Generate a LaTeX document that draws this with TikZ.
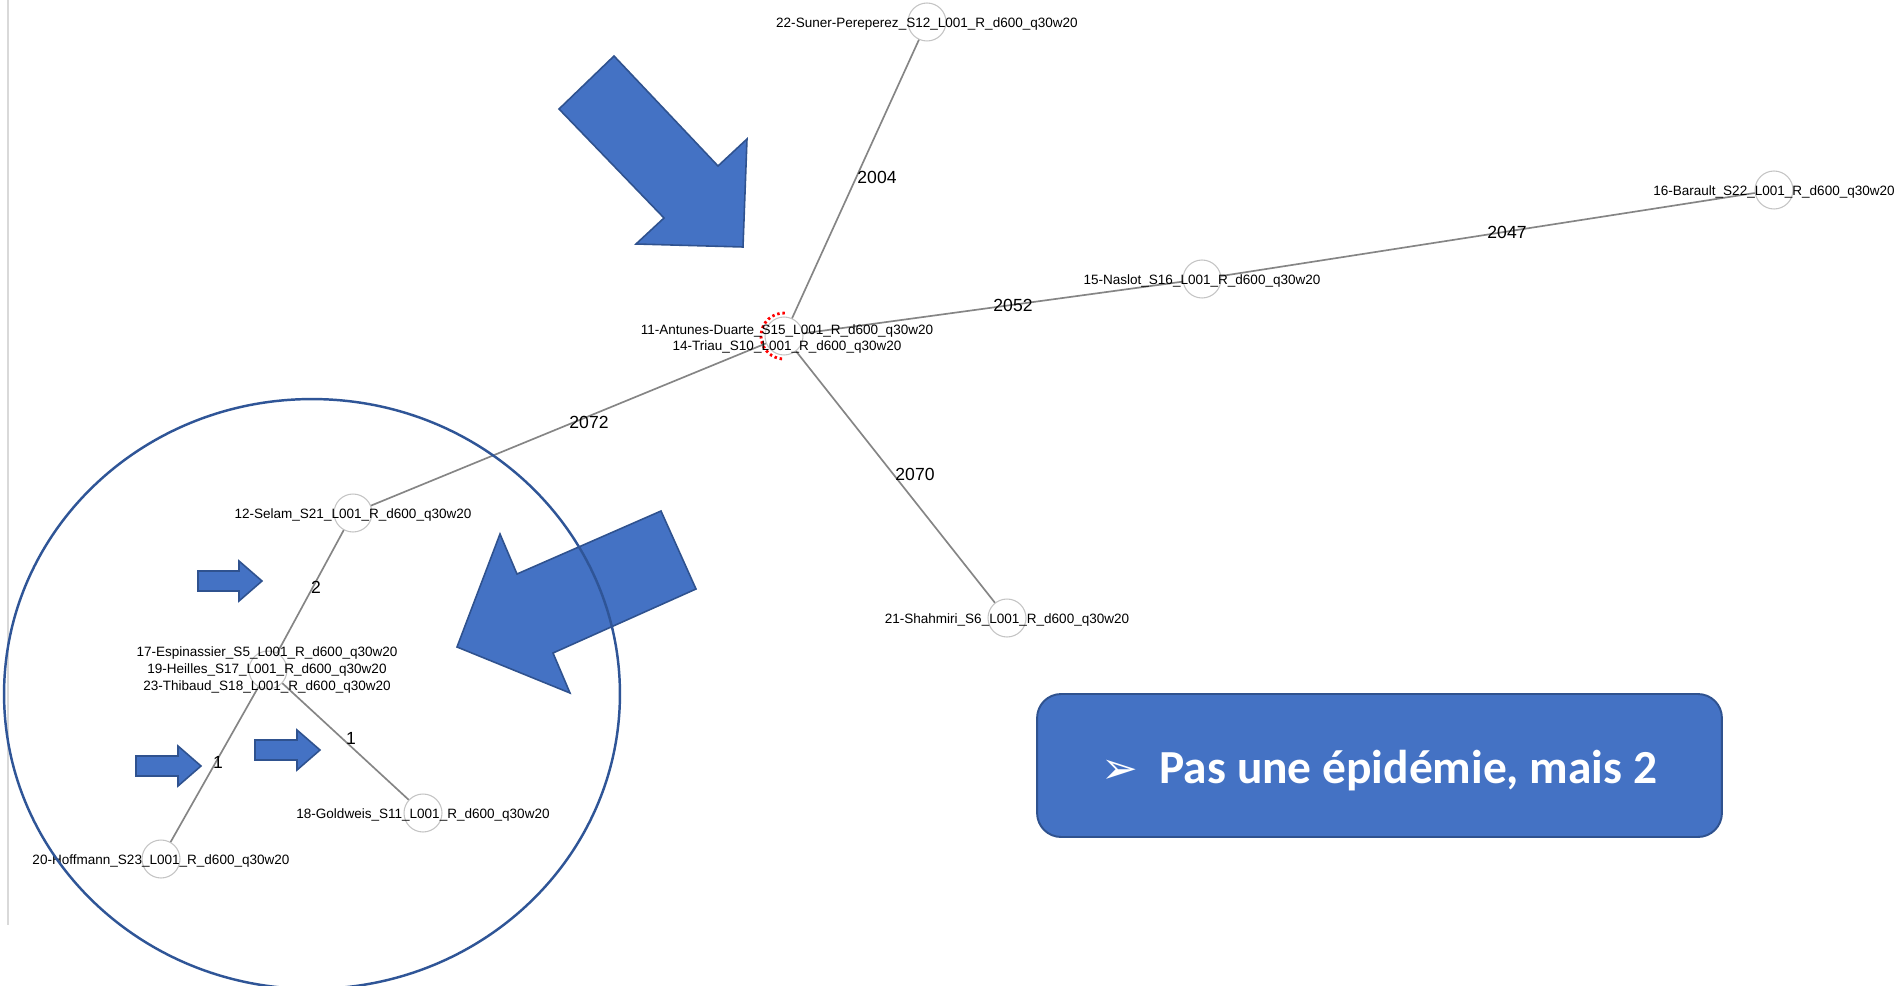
\documentclass[tikz,border=0pt]{standalone}
\usepackage{fontspec}
\setmainfont{Liberation Sans}
\newfontfamily\calloutfont{Carlito}
\newfontfamily\dingfont{DejaVu Sans}
\definecolor{pptblue}{HTML}{4472C4}
\definecolor{pptedge}{HTML}{2F528F}
\definecolor{ringblue}{HTML}{2F5597}
\definecolor{edgegray}{HTML}{858585}
\definecolor{nodegray}{HTML}{C4C4C4}

\begin{document}
\begin{tikzpicture}[x=0.02cm, y=-0.02cm,
    sample/.style={draw=nodegray, fill=white, line width=0.6pt, circle, minimum size=0.76cm, inner sep=0pt},
    samplelbl/.style={font=\fontsize{7.7}{9.4}\selectfont, align=center, inner sep=0pt},
    dist/.style={font=\fontsize{10}{12}\selectfont, inner sep=0pt},
    link/.style={draw=edgegray, line width=0.95pt},
    bluearrow/.style={fill=pptblue, draw=pptedge, line width=0.9pt, line join=miter}]
    \useasboundingbox (0,0) rectangle (1896,986);
    \fill[white] (0,0) rectangle (1896,986);
    \draw[black!15, line width=1.2pt] (8,0) -- (8,925);

    % samples (minimum spanning tree)
    \node[sample] (s11) at (784,336) {};
    \node[sample] (s22) at (927,22) {};
    \node[sample] (s15) at (1202,279) {};
    \node[sample] (s16) at (1774,190) {};
    \node[sample] (s12) at (353,513) {};
    \node[sample] (s21) at (1007,618) {};
    \node[sample] (s17) at (268,670) {};
    \node[sample] (s18) at (423,813) {};
    \node[sample] (s20) at (161,859) {};

    % branches
    \draw[link] (s11) -- (s22);
    \draw[link] (s11) -- (s15);
    \draw[link] (s15) -- (s16);
    \draw[link] (s11) -- (s12);
    \draw[link] (s11) -- (s21);
    \draw[link] (s12) -- (s17);
    \draw[link] (s17) -- (s18);
    \draw[link] (s17) -- (s20);

    % distances
    \node[dist] (d2004) at (877,177) {2004};
    \node[dist] (d2052) at (1013,305) {2052};
    \node[dist] (d2047) at (1507,232) {2047};
    \node[dist] (d2072) at (589,422) {2072};
    \node[dist] (d2070) at (915,474) {2070};
    \node[dist] (d2) at (316,587) {2};
    \node[dist] (d1a) at (351,738) {1};
    \node[dist] (d1b) at (218,762) {1};

    % red selection mark
    \draw[red, dash pattern=on 1.4pt off 1.6pt, line width=1.6pt] ([shift={(88:0.46cm)}]s11.center) arc[start angle=88, end angle=272, radius=0.46cm];

    % sample names
    \node[samplelbl] (t11) at (787,339) {11-Antunes-Duarte\_S15\_L001\_R\_d600\_q30w20\\14-Triau\_S10\_L001\_R\_d600\_q30w20};
    \node[samplelbl] (t22) at (927,24) {22-Suner-Pereperez\_S12\_L001\_R\_d600\_q30w20};
    \node[samplelbl] (t15) at (1202,281) {15-Naslot\_S16\_L001\_R\_d600\_q30w20};
    \node[samplelbl] (t16) at (1774,192) {16-Barault\_S22\_L001\_R\_d600\_q30w20};
    \node[samplelbl] (t12) at (353,515) {12-Selam\_S21\_L001\_R\_d600\_q30w20};
    \node[samplelbl] (t21) at (1007,620) {21-Shahmiri\_S6\_L001\_R\_d600\_q30w20};
    \node[samplelbl] (t17) at (267,670) {17-Espinassier\_S5\_L001\_R\_d600\_q30w20\\19-Heilles\_S17\_L001\_R\_d600\_q30w20\\23-Thibaud\_S18\_L001\_R\_d600\_q30w20};
    \node[samplelbl] (t18) at (423,815) {18-Goldweis\_S11\_L001\_R\_d600\_q30w20};
    \node[samplelbl] (t20) at (161,861) {20-Hoffmann\_S23\_L001\_R\_d600\_q30w20};

    % big arrows
    \draw[bluearrow] (559,109) -- (614,56) -- (718,166) -- (747,139) -- (743,247) -- (636,244) -- (664,218) -- cycle;
    \draw[bluearrow] (661,511) -- (696,589) -- (553,653) -- (570,693) -- (457,647) -- (500,534) -- (517,574) -- cycle;

    % small arrows
    \draw[bluearrow] (198,571) -- (239,571) -- (239,561) -- (262,581) -- (239,601) -- (239,591) -- (198,591) -- cycle;
    \draw[bluearrow] (136,756) -- (178,756) -- (178,746) -- (201,766) -- (178,786) -- (178,776) -- (136,776) -- cycle;
    \draw[bluearrow] (255,740) -- (297,740) -- (297,730) -- (320,750) -- (297,770) -- (297,760) -- (255,760) -- cycle;

    % cluster ring
    \draw[ringblue, line width=1.4pt] (312,694) ellipse [x radius=6.16cm, y radius=5.9cm];

    % conclusion
    \node[fill=pptblue, draw=pptedge, line width=1.1pt, rounded corners=0.48cm,
          minimum width=13.7cm, minimum height=2.86cm] (msg) at (1379.5,765.5) {};
    \node[text=white, inner sep=0pt] (msgtxt) at (1379.5,770.5)
        {{\dingfont\fontsize{25}{25}\selectfont ➢}\hspace{12pt}{\calloutfont\bfseries\fontsize{27}{30}\selectfont Pas une épidémie, mais 2}};
\end{tikzpicture}
\end{document}
